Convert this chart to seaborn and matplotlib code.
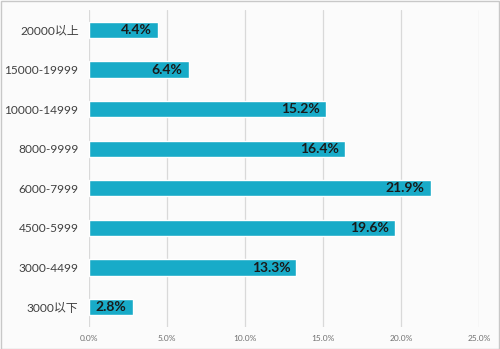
import matplotlib
matplotlib.use("Agg")
import matplotlib.pyplot as plt
import seaborn as sns
import pandas as pd
from matplotlib.patches import Rectangle

categories = ["20000以上", "15000-19999", "10000-14999", "8000-9999",
              "6000-7999", "4500-5999", "3000-4499", "3000以下"]
values = [4.4, 6.4, 15.2, 16.4, 21.9, 19.6, 13.3, 2.8]
xticks = [0, 5, 10, 15, 20, 25]
xtick_labels = ["0.0%", "5.0%", "10.0%", "15.0%", "20.0%", "25.0%"]

sns.set_theme(style="white")
plt.rcParams['font.family'] = ['Lato', 'Noto Sans CJK SC', 'DejaVu Sans']

df = pd.DataFrame({"cat": categories, "val": values})

fig = plt.figure(figsize=(5, 3.49), dpi=100)
fig.patch.set_facecolor("#fbfbfb")
ax = fig.add_axes([0.178, 0.063, 0.78, 0.908])
ax.set_facecolor("none")

sns.barplot(data=df, x="val", y="cat", order=categories, color="#18abc8",
            saturation=1, width=0.41, ax=ax, zorder=3)

ax.set_xlim(0, 25)
ax.set_xticks(xticks)
ax.set_xticklabels(xtick_labels, fontsize=6, color="#707070")
ax.tick_params(axis="x", length=0, pad=6)
ax.tick_params(axis="y", length=0, pad=7.5, labelsize=8.6, labelcolor="#404040")
ax.grid(axis="x", color="#d9d9d9", linewidth=0.9, zorder=0)
ax.set_axisbelow(True)
for s in ax.spines.values():
    s.set_visible(False)
ax.set_xlabel("")
ax.set_ylabel("")

for i, v in enumerate(values):
    ax.text(v - 0.4, i, f"{v:.1f}%", ha="right", va="center",
            fontsize=10, fontweight="bold", color="#1a1a1a", zorder=5)

fig.add_artist(Rectangle((0.001, 0.001), 0.997, 0.996, transform=fig.transFigure,
                         fill=False, edgecolor="#c8c8c8", linewidth=1))

fig.savefig("out.png", dpi=100, facecolor=fig.get_facecolor())
